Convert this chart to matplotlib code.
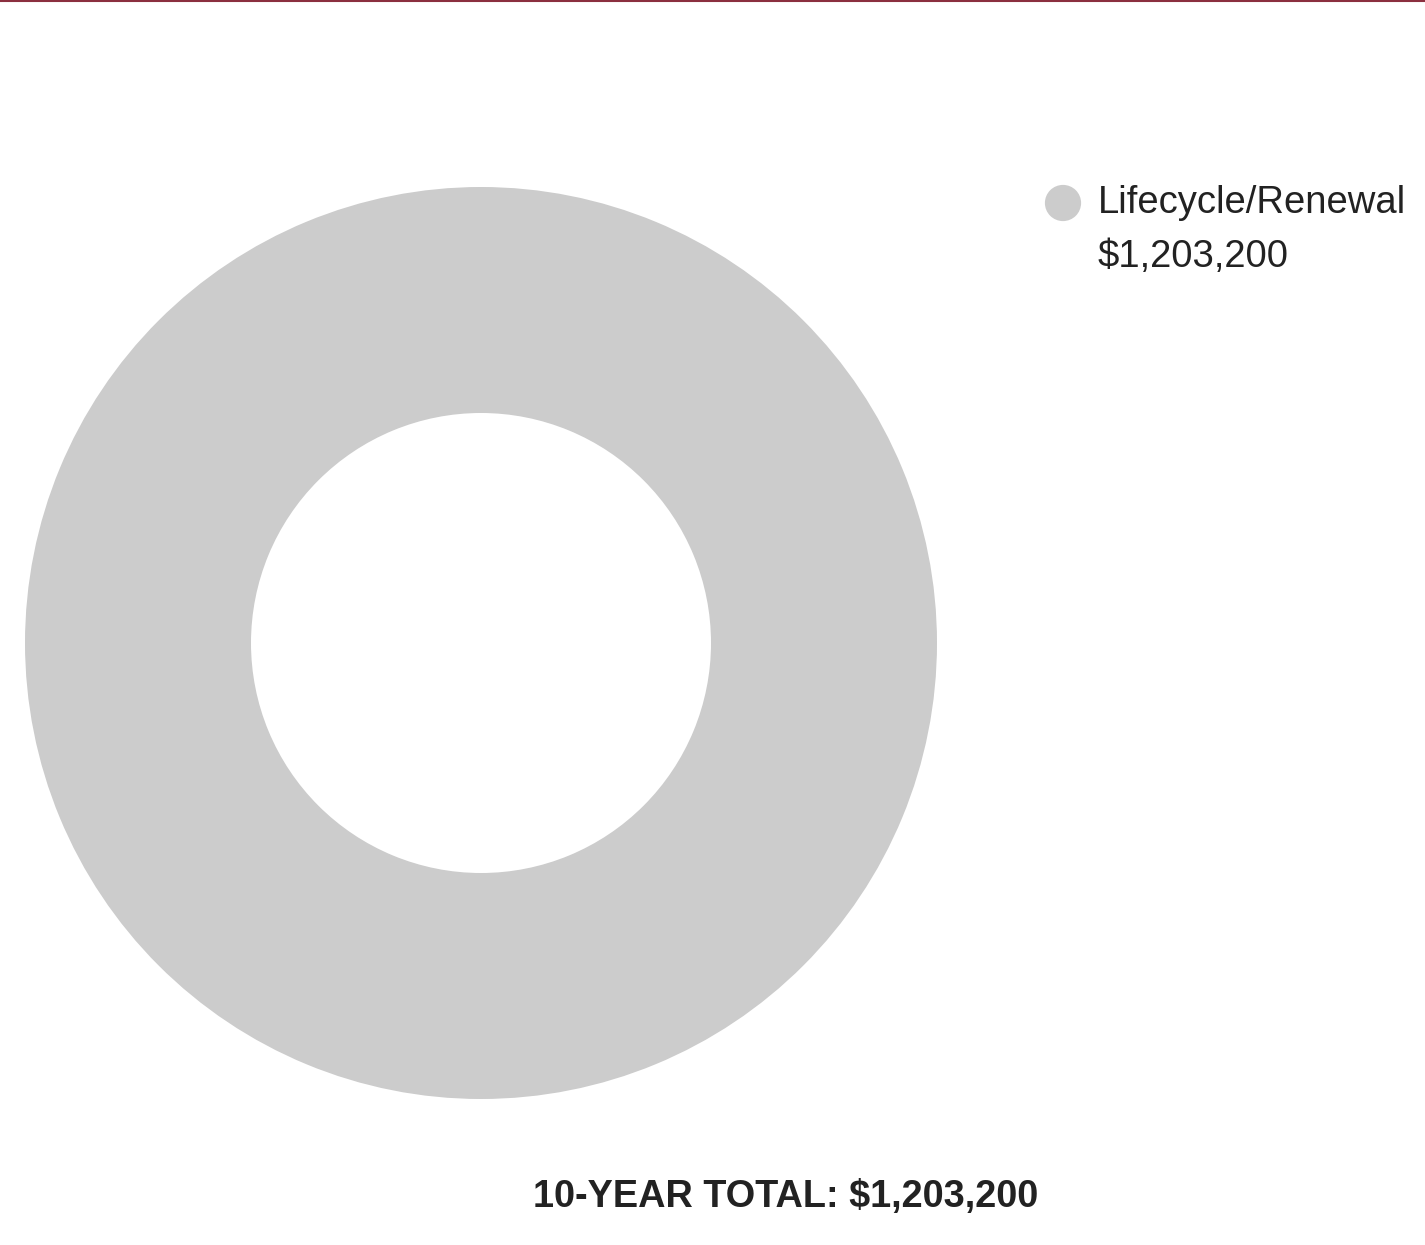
import matplotlib
matplotlib.use("Agg")
import matplotlib.pyplot as plt

# data
labels = ["Lifecycle/Renewal"]
values = [1203200]
colors = ["#cccccc"]
total_label = "10-YEAR TOTAL"

W, H = 1425, 1245
fig = plt.figure(figsize=(W / 100, H / 100), dpi=100)
ax = fig.add_axes([0, 0, 1, 1])

# donut
ax.pie(values, colors=colors, center=(481, 643), radius=456, startangle=90,
       counterclock=False, wedgeprops=dict(width=226, edgecolor="none"))
ax.set_xlim(0, W)
ax.set_ylim(H, 0)
ax.set_aspect("auto")
ax.axis("off")

# top border line
ax.axhline(0.5, color="#8b2f3f", lw=1.5)

# legend
for i, (lab, val, col) in enumerate(zip(labels, values, colors)):
    y = 203 + i * 110
    ax.scatter([1063], [y], s=680, color=col, edgecolors="none")
    ax.text(1098, y, lab, fontsize=27.5, family="Liberation Sans", color="#222222",
            va="center", ha="left")
    ax.text(1098, y + 54, f"${val:,.0f}", fontsize=27.5, family="Liberation Sans",
            color="#222222", va="center", ha="left")

ax.text(786, 1197, f"{total_label}: ${sum(values):,.0f}", fontsize=27.3,
        family="Liberation Sans", weight="bold", color="#222222",
        ha="center", va="center")

fig.savefig("out.png", dpi=100)
